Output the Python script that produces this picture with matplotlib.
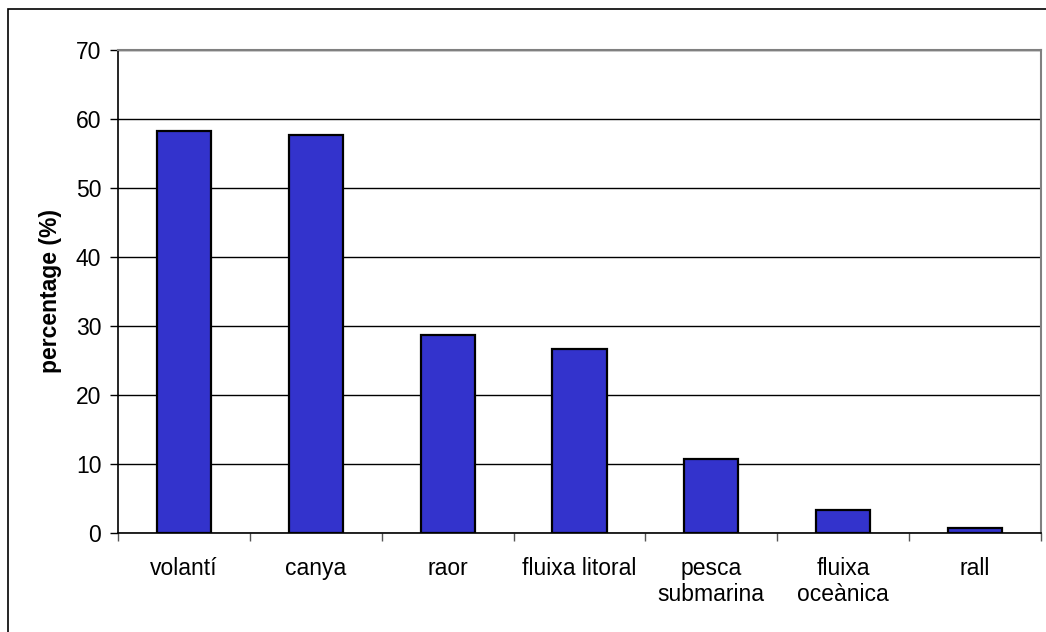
import numpy as np
import matplotlib
matplotlib.use('Agg')
import matplotlib.pyplot as plt
from matplotlib.patches import Rectangle

plt.rcParams['font.family'] = ['Liberation Sans', 'DejaVu Sans']

# data
categories = ['volantí', 'canya', 'raor', 'fluixa litoral', 'pesca\nsubmarina', 'fluixa\noceànica', 'rall']
values = [58.2, 57.6, 28.7, 26.7, 10.7, 3.3, 0.7]
yticks = [0, 10, 20, 30, 40, 50, 60, 70]

W, H = 1046, 632
fig = plt.figure(figsize=(W / 100, H / 100), dpi=100)
ax = fig.add_axes([118 / W, 1 - 533 / H, (1041 - 118) / W, (533 - 49.5) / H])

x = np.arange(len(categories))
ax.bar(x, values, width=0.41, color='#3333CC', edgecolor='black', linewidth=1.6, zorder=3)

ax.set_xlim(-0.5, len(categories) - 0.5)
ax.set_ylim(0, 70)
ax.set_yticks(yticks)
ax.set_yticklabels([str(v) for v in yticks], fontsize=16.5)
ax.yaxis.grid(True, color='black', linewidth=1.0, zorder=0)

# category boundaries get the tick marks, centres get the labels
ax.set_xticks(np.arange(len(categories) + 1) - 0.5)
ax.set_xticklabels([])
ax.set_xticks(x, minor=True)
ax.set_xticklabels(categories, minor=True, fontsize=16.5, linespacing=1.2)
ax.tick_params(axis='x', which='major', direction='out', length=5.5, width=1.0, color='#555555')
ax.tick_params(axis='x', which='minor', length=0, pad=17)
ax.tick_params(axis='y', direction='out', length=6, width=1.0, pad=6)

for side in ['left', 'bottom']:
    ax.spines[side].set_color('black')
    ax.spines[side].set_linewidth(1.2)
for side in ['top', 'right']:
    ax.spines[side].set_color('#808080')
    ax.spines[side].set_linewidth(1.5)

ax.set_ylabel('percentage (%)', fontsize=16.5, fontweight='bold')
ax.yaxis.set_label_coords(-(118 - 62) / (1041 - 118), 0.5)

# chart outer frame (right and bottom edges fall outside the image)
fig.patches.append(Rectangle((8 / W, -0.05), 1.1, 1 - 9 / H + 0.05, transform=fig.transFigure,
                             fill=False, edgecolor='black', linewidth=1.2))

fig.savefig('out.png', dpi=100)
